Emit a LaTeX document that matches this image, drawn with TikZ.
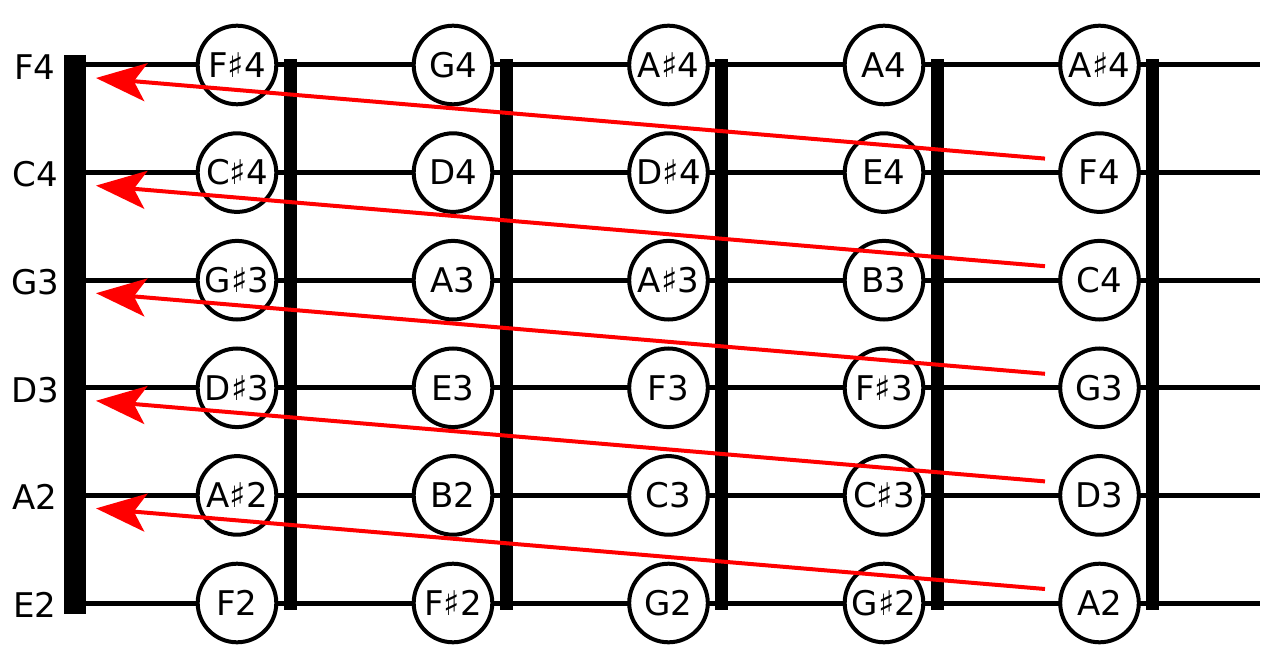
\documentclass[tikz,border=0pt]{standalone}
\usepackage{fontspec}
\setmainfont{DejaVu Sans}
\usetikzlibrary{arrows.meta}
\begin{document}
\begin{tikzpicture}[x=1pt,y=-1pt,
  notefont/.style={font=\fontsize{34}{40}\selectfont,text height=24.5pt,text depth=0pt},
  note/.style={notefont,circle,draw=black,fill=white,line width=4pt,minimum size=78.6pt,inner sep=0pt},
  strlabel/.style={notefont,inner sep=0pt},
  stringline/.style={line width=5pt},
  nutbar/.style={line width=22pt},
  fretbar/.style={line width=13pt},
  shiftarrow/.style={red,line width=4pt,-{Stealth[length=50pt,width=38pt,inset=12pt]}}]
\useasboundingbox (0,0) rectangle (1280,660);
% strings
\foreach \i in {0,...,5}{
  \pgfmathsetmacro{\yy}{65+\i*107.6}
  \coordinate (sa-\i) at (75,\yy);
  \coordinate (sb-\i) at (1260,\yy);
  \draw[stringline] (sa-\i) -- (sb-\i);
}
% nut
\coordinate (nut-top) at (75,55);
\coordinate (nut-bot) at (75,614);
\draw[nutbar] (nut-top) -- (nut-bot);
% frets
\foreach \f [count=\k] in {290,506,721.5,937,1152.5}{
  \coordinate (ft-\k) at (\f,59);
  \coordinate (fb-\k) at (\f,610);
  \draw[fretbar] (ft-\k) -- (fb-\k);
}
% notes
\foreach \lab/\a/\b/\c/\d/\e [count=\i from 0] in {
  F4/F♯4/G4/A♯4/A4/A♯4,
  C4/C♯4/D4/D♯4/E4/F4,
  G3/G♯3/A3/A♯3/B3/C4,
  D3/D♯3/E3/F3/F♯3/G3,
  A2/A♯2/B2/C3/C♯3/D3,
  E2/F2/F♯2/G2/G♯2/A2}{
  \pgfmathsetmacro{\yy}{65+\i*107.6}
  \node[strlabel] (lab-\i) at (35,\yy+2) {\lab};
  \node[note] (n-\i-1) at (237,\yy) {\a};
  \node[note] (n-\i-2) at (453,\yy) {\b};
  \node[note] (n-\i-3) at (668.5,\yy) {\c};
  \node[note] (n-\i-4) at (884,\yy) {\d};
  \node[note] (n-\i-5) at (1099.5,\yy) {\e};
}
% arrows
\foreach \i in {0,...,4}{
  \pgfmathsetmacro{\ys}{65+(\i+1)*107.6-14}
  \pgfmathsetmacro{\yt}{65+\i*107.6+13}
  \coordinate (as-\i) at (1045,\ys);
  \coordinate (at-\i) at (96,\yt);
  \draw[shiftarrow] (as-\i) -- (at-\i);
}
\end{tikzpicture}
\end{document}
